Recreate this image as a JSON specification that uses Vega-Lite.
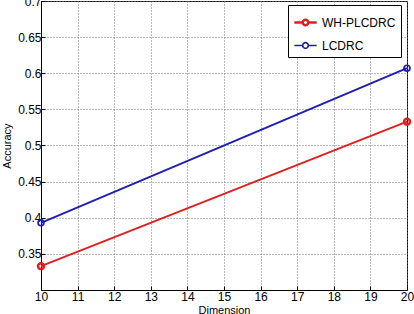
{
  "$schema": "https://vega.github.io/schema/vega-lite/v6.json",
  "autosize": "none",
  "width": 366,
  "height": 289,
  "padding": {"left": 41, "top": 1, "right": 7, "bottom": 24},
  "background": "white",
  "config": {
    "view": {"stroke": "black", "strokeWidth": 1},
    "font": "Liberation Sans",
    "axis": {
      "labelFont": "Liberation Sans",
      "titleFont": "Liberation Sans",
      "labelColor": "black",
      "titleColor": "black",
      "labelFontSize": 12,
      "titleFontSize": 11,
      "titleFontWeight": "normal",
      "domainColor": "black",
      "tickColor": "black",
      "tickSize": -4,
      "gridColor": "#777",
      "gridDash": [1, 2],
      "gridWidth": 1,
      "gridOpacity": 1
    }
  },
  "data": {
    "values": [
      {"Dimension": 10, "Accuracy": 0.333, "Method": "WH-PLCDRC"},
      {"Dimension": 20, "Accuracy": 0.533, "Method": "WH-PLCDRC"},
      {"Dimension": 10, "Accuracy": 0.393, "Method": "LCDRC"},
      {"Dimension": 20, "Accuracy": 0.607, "Method": "LCDRC"}
    ]
  },
  "mark": {"type": "line", "strokeWidth": 2, "point": {"filled": false, "size": 35, "strokeWidth": 1.5}},
  "encoding": {
    "x": {
      "field": "Dimension", "type": "quantitative",
      "scale": {"domain": [10, 20], "nice": false},
      "axis": {"values": [10, 11, 12, 13, 14, 15, 16, 17, 18, 19, 20], "labelPadding": 5, "titlePadding": 2, "labelFlush": false}
    },
    "y": {
      "field": "Accuracy", "type": "quantitative",
      "scale": {"domain": [0.3, 0.7], "nice": false, "zero": false},
      "axis": {"values": [0.35, 0.4, 0.45, 0.5, 0.55, 0.6, 0.65, 0.7], "format": "~g", "labelPadding": 4, "titlePadding": 5, "labelFlush": false}
    },
    "strokeWidth": {
      "field": "Method", "type": "nominal",
      "scale": {"domain": ["WH-PLCDRC", "LCDRC"], "range": [2.5, 1.7]},
      "legend": null
    },
    "color": {
      "field": "Method", "type": "nominal",
      "scale": {"domain": ["WH-PLCDRC", "LCDRC"], "range": ["#e02020", "#2020b0"]},
      "legend": {
        "title": null,
        "orient": "none",
        "legendX": 247,
        "legendY": 4,
        "fillColor": "white",
        "strokeColor": "black",
        "padding": 5,
        "labelFont": "Liberation Sans",
        "labelFontSize": 12,
        "labelColor": "black",
        "symbolType": "M-1,0L-0.25,0M0.25,0L1,0M-0.25,0A0.25,0.25 0 1,0 0.25,0A0.25,0.25 0 1,0 -0.25,0",
        "symbolSize": 500,
        "symbolStrokeWidth": 1.7,
        "symbolFillColor": "transparent",
        "rowPadding": 2
      }
    }
  }
}
